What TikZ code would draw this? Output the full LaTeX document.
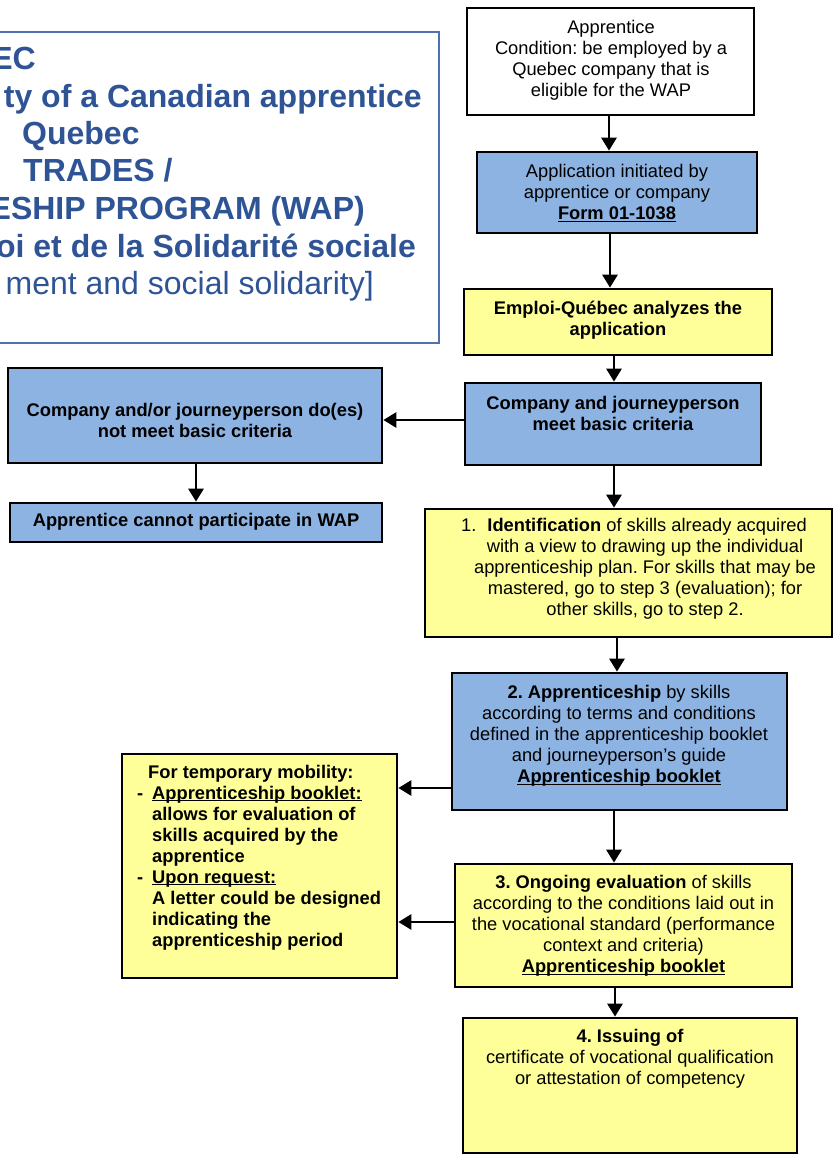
\documentclass[tikz,border=0pt]{standalone}
\usepackage{fontspec}
\setmainfont{Liberation Sans}
\usetikzlibrary{arrows.meta}
\definecolor{boxblue}{RGB}{141,179,226}
\definecolor{boxyellow}{RGB}{255,255,153}
\definecolor{titleblue}{RGB}{47,84,150}
\definecolor{titleframe}{RGB}{79,113,176}
\newcommand{\ulx}[1]{\underline{\smash{#1}}}
\frenchspacing
\begin{document}
\begin{tikzpicture}[x=1pt,y=-1pt,
 box/.style={draw=black, line width=2.7pt, rectangle, inner sep=0pt},
 bluebox/.style={box, fill=boxblue},
 yellowbox/.style={box, fill=boxyellow},
 whitebox/.style={box, fill=white},
 txt/.style={inner sep=0pt, align=center, font=\fontsize{18.3}{21}\selectfont},
 btxt/.style={inner sep=0pt, align=center, font=\fontsize{18.3}{21}\selectfont\bfseries},
 arr/.style={line width=2.8pt, -{Triangle[width=15pt,length=13pt]}},
 ttl/.style={inner sep=0pt, text=titleblue, font=\fontsize{32}{37}\selectfont\bfseries},
 ttlr/.style={inner sep=0pt, text=titleblue, font=\fontsize{32}{37}\selectfont}]

\useasboundingbox (0,0) rectangle (834,1159);
\fill[white] (0,0) rectangle (834,1159);

% title frame and title text
\node[draw=titleframe, line width=1.5pt, inner sep=0pt, minimum width=444pt, minimum height=311pt] (title) at (217,187.5) {};
\node[ttl, anchor=base east] (t1) at (36,69) {EC};
\node[ttl, anchor=base east] (t2) at (422,107) {ty of a Canadian apprentice};
\node[ttl, anchor=base west] (t3) at (22,144) {Quebec};
\node[ttl, anchor=base west] (t4) at (23,181) {TRADES /};
\node[ttl, anchor=base east] (t5) at (365,219) {ESHIP PROGRAM (WAP)};
\node[ttl, anchor=base east] (t6) at (416,257) {oi et de la Solidarité sociale};
\node[ttlr, anchor=base east] (t7) at (374,294) {ment and social solidarity]};

% boxes
\node[whitebox, minimum width=287pt, minimum height=107pt] (A) at (610.5,61.5) {};
\node[bluebox, minimum width=280pt, minimum height=81pt] (B) at (617,192.5) {};
\node[yellowbox, minimum width=308pt, minimum height=66pt] (C) at (618,322) {};
\node[bluebox, minimum width=296pt, minimum height=82pt] (D) at (613,424) {};
\node[bluebox, minimum width=374pt, minimum height=95pt] (N) at (195,415.5) {};
\node[bluebox, minimum width=372pt, minimum height=39pt] (X) at (196,522.5) {};
\node[yellowbox, minimum width=407pt, minimum height=128pt] (I) at (628.5,573) {};
\node[bluebox, minimum width=335pt, minimum height=137pt] (P) at (619.5,741.5) {};
\node[yellowbox, minimum width=275pt, minimum height=224pt] (M) at (259.5,866) {};
\node[yellowbox, minimum width=337pt, minimum height=123pt] (E) at (623.5,925.5) {};
\node[yellowbox, minimum width=334pt, minimum height=135pt] (F) at (630,1085.5) {};

% texts
\node[txt] (At) at (611,60) {Apprentice\\Condition: be employed by a\\Quebec company that is\\eligible for the WAP};
\node[txt] (Bt) at (617,193) {Application initiated by\\apprentice or company\\\textbf{\ulx{Form 01-1038}}};
\node[btxt] (Ct) at (618,320) {Emploi-Québec analyzes the\\application};
\node[btxt] (Dt) at (613,413) {Company and journeyperson\\meet basic criteria};
\node[btxt] (Nt) at (195,420.5) {Company and/or journeyperson do(es)\\not meet basic criteria};
\node[btxt] (Xt) at (196,522) {Apprentice cannot participate in WAP};
\node[txt] (It) at (645,569) {1.\hspace{0.6em}\textbf{Identification} of skills already acquired\hspace*{22pt}\\with a view to drawing up the individual\\apprenticeship plan. For skills that may be\\mastered, go to step 3 (evaluation); for\\other skills, go to step 2.};
\node[txt] (Pt) at (619,735) {\textbf{2. Apprenticeship} by skills\\according to terms and conditions\\defined in the apprenticeship booklet\\and journeyperson’s guide\\\textbf{\ulx{Apprenticeship booklet}}};
\node[btxt, align=left, anchor=west] (Mt) at (137,857.5) {\hspace*{11pt}For temporary mobility:\\\makebox[15pt][l]{-}\ulx{Apprenticeship booklet:}\\\hspace*{15pt}allows for evaluation of\\\hspace*{15pt}skills acquired by the\\\hspace*{15pt}apprentice\\\makebox[15pt][l]{-}\ulx{Upon request:}\\\hspace*{15pt}A letter could be designed\\\hspace*{15pt}indicating the\\\hspace*{15pt}apprenticeship period};
\node[txt] (Et) at (623.5,925) {\textbf{3. Ongoing evaluation} of skills\\according to the conditions laid out in\\the vocational standard (performance\\context and criteria)\\\textbf{\ulx{Apprenticeship booklet}}};
\node[txt] (Ft) at (630,1059) {\textbf{4. Issuing of}\\certificate of vocational qualification\\or attestation of competency};

% connectors
\draw[arr] (609,0 |- A.south) -- (609,0 |- B.north);
\draw[arr] (610,0 |- B.south) -- (610,0 |- C.north);
\draw[arr] (614,0 |- C.south) -- (614,0 |- D.north);
\draw[arr] (D.west |- 0,420) -- (N.east |- 0,420);
\draw[arr] (196,0 |- N.south) -- (196,0 |- X.north);
\draw[arr] (614,0 |- D.south) -- (614,0 |- I.north);
\draw[arr] (617,0 |- I.south) -- (617,0 |- P.north);
\draw[arr] (P.west |- 0,788) -- (M.east |- 0,788);
\draw[arr] (614,0 |- P.south) -- (614,0 |- E.north);
\draw[arr] (E.west |- 0,922) -- (M.east |- 0,922);
\draw[arr] (615,0 |- E.south) -- (615,0 |- F.north);
\end{tikzpicture}
\end{document}
